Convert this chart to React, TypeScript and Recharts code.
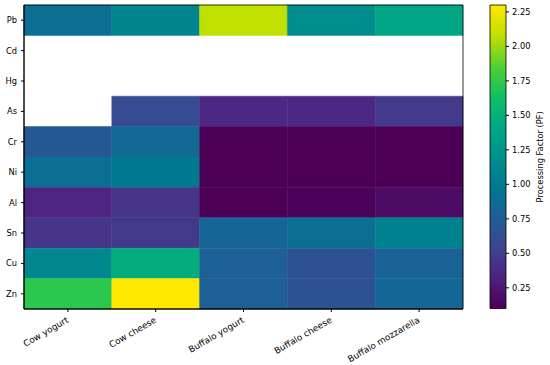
import React from 'react';
import { ScatterChart, Scatter, XAxis, YAxis, ReferenceArea } from 'recharts';

const metals = ['Pb', 'Cd', 'Hg', 'As', 'Cr', 'Ni', 'Al', 'Sn', 'Cu', 'Zn'];
const products = ['Cow yogurt', 'Cow cheese', 'Buffalo yogurt', 'Buffalo cheese', 'Buffalo mozzarella'];

const cowYogurt = [0.9, null, null, null, 0.72, 0.9, 0.34, 0.45, 1.13, 1.73];
const cowCheese = [1.1, null, null, 0.6, 0.85, 1.0, 0.45, 0.47, 1.46, 2.3];
const buffaloYogurt = [2.08, null, null, 0.36, 0.1, 0.1, 0.1, 0.82, 0.78, 0.78];
const buffaloCheese = [1.18, null, null, 0.36, 0.1, 0.1, 0.12, 0.9, 0.65, 0.66];
const buffaloMozzarella = [1.4, null, null, 0.47, 0.1, 0.1, 0.18, 1.06, 0.8, 0.84];

const colorbarTicks = [0.25, 0.5, 0.75, 1.0, 1.25, 1.5, 1.75, 2.0, 2.25];
const colorbarLabel = 'Processing Factor (PF)';

const columns: (number | null)[][] = [cowYogurt, cowCheese, buffaloYogurt, buffaloCheese, buffaloMozzarella];

// viridis-like colormap (as it appears in the reference, more saturated)
const CMAP = ['#4b0055', '#4f2180', '#3e4490', '#1f5e95', '#007892', '#00908c', '#00a884', '#10c062', '#55d032', '#c0e000', '#ffe800'];

function hexToRgb(h: string) {
  return [parseInt(h.slice(1, 3), 16), parseInt(h.slice(3, 5), 16), parseInt(h.slice(5, 7), 16)];
}
function cmap(t: number) {
  const c = Math.max(0, Math.min(1, t)) * (CMAP.length - 1);
  const i = Math.min(Math.floor(c), CMAP.length - 2);
  const f = c - i;
  const a = hexToRgb(CMAP[i]);
  const b = hexToRgb(CMAP[i + 1]);
  const r = a.map((v, k) => Math.round(v + (b[k] - v) * f));
  return `rgb(${r[0]},${r[1]},${r[2]})`;
}

const allVals = columns.flat().filter((v): v is number => v !== null);
const VMIN = Math.min(...allVals);
const VMAX = Math.max(...allVals);

const cells: { x: number; y: number; ci: number; ri: number; v: number }[] = [];
columns.forEach((col, ci) =>
  col.forEach((v, ri) => {
    if (v !== null) cells.push({ x: ci + 0.5, y: ri + 0.5, ci, ri, v });
  })
);

const FONT = 'DejaVu Sans';
const FS = 8.3;
const FSX = 8.8;

const XTick = (props: any) => {
  const { x, y, payload } = props;
  const label = products[Math.floor(payload.value)];
  return (
    <g transform={`translate(${x - 2},${y + 1})`}>
      <text transform="rotate(-30)" textAnchor="end" dy="0.75em" fontFamily={FONT} fontSize={FSX} fill="#000">
        {label}
      </text>
    </g>
  );
};

const App = () => {
  return (
    <div style={{ position: 'absolute', left: 0, top: 0, width: 550, height: 365, background: '#fff' }}>
      <div style={{ position: 'absolute', left: 0, top: 0 }}>
        <ScatterChart width={550} height={365} margin={{ top: 5, right: 87, bottom: 0, left: 0 }}>
          <XAxis
            type="number"
            dataKey="x"
            domain={[0, 5]}
            ticks={[0.5, 1.5, 2.5, 3.5, 4.5]}
            interval={0}
            height={56}
            tick={<XTick />}
            tickSize={3}
            tickMargin={3}
            stroke="#000"
            allowDataOverflow
          />
          <YAxis
            type="number"
            dataKey="y"
            domain={[0, 10]}
            reversed
            ticks={[0.5, 1.5, 2.5, 3.5, 4.5, 5.5, 6.5, 7.5, 8.5, 9.5]}
            interval={0}
            width={24}
            tickSize={3}
            tickMargin={4}
            stroke="#000"
            tickFormatter={(v: number) => metals[Math.floor(v)]}
            tick={{ fill: '#000', fontSize: FS, fontFamily: FONT }}
            allowDataOverflow
          />
          <Scatter data={cells} isAnimationActive={false} shape={() => <g />} />
          {cells.map((c) => (
            <ReferenceArea
              key={`${c.ci}-${c.ri}`}
              x1={c.ci}
              x2={c.ci + 1}
              y1={c.ri}
              y2={c.ri + 1}
              fill={cmap((c.v - VMIN) / (VMAX - VMIN))}
              fillOpacity={1}
              stroke={cmap((c.v - VMIN) / (VMAX - VMIN))}
              strokeWidth={0.5}
              ifOverflow="visible"
            />
          ))}
          <ReferenceArea x1={0} x2={5} y1={0} y2={10} fill="none" stroke="#000" strokeWidth={0.8} ifOverflow="visible" />
        </ScatterChart>
      </div>
      <div style={{ position: 'absolute', left: 0, top: 0 }}>
        <ScatterChart width={550} height={365} margin={{ top: 5, right: 0, bottom: 56.5, left: 490 }}>
          <defs>
            <linearGradient id="cmapGrad" x1="0" y1="1" x2="0" y2="0">
              {CMAP.map((c, i) => (
                <stop key={i} offset={`${(i / (CMAP.length - 1)) * 100}%`} stopColor={c} />
              ))}
            </linearGradient>
          </defs>
          <XAxis type="number" dataKey="x" domain={[0, 1]} hide />
          <YAxis
            type="number"
            dataKey="y"
            orientation="right"
            domain={[VMIN, VMAX]}
            ticks={colorbarTicks}
            interval={0}
            width={44}
            tickSize={3}
            tickMargin={3}
            axisLine={false}
            stroke="#000"
            tickFormatter={(v: number) => v.toFixed(2)}
            tick={{ fill: '#000', fontSize: FS, fontFamily: FONT }}
            allowDataOverflow
            label={{
              content: (p: any) => {
                const vb = p.viewBox || { x: 506, y: 5, width: 44, height: 304 };
                const cx = vb.x + vb.width - 10;
                const cy = vb.y + vb.height / 2;
                return (
                  <text
                    x={cx}
                    y={cy}
                    transform={`rotate(-90, ${cx}, ${cy})`}
                    textAnchor="middle"
                    dominantBaseline="central"
                    fontFamily={FONT}
                    fontSize={FS}
                    fill="#000"
                  >
                    {colorbarLabel}
                  </text>
                );
              },
            }}
          />
          <Scatter data={[{ x: 0.5, y: 1 }]} isAnimationActive={false} shape={() => <g />} />
          <ReferenceArea
            x1={0}
            x2={1}
            y1={VMIN}
            y2={VMAX}
            fill="url(#cmapGrad)"
            fillOpacity={1}
            stroke="#000"
            strokeWidth={0.8}
            ifOverflow="visible"
          />
        </ScatterChart>
      </div>
    </div>
  );
};

export default App;
